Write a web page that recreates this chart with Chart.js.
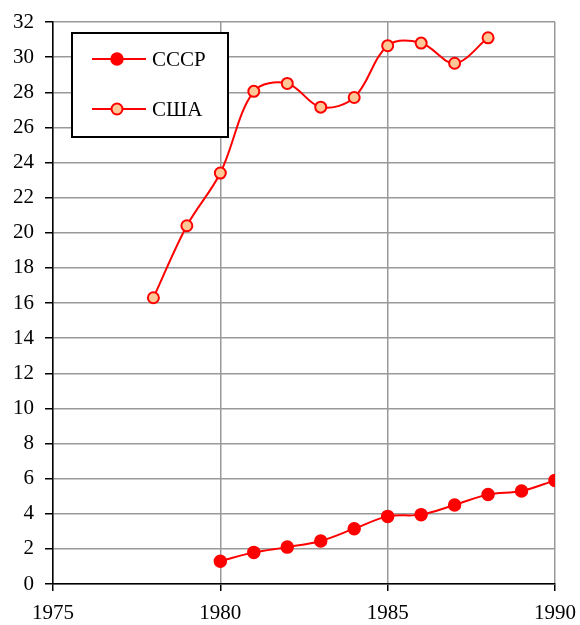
<!DOCTYPE html>
<html>
<head>
<meta charset="utf-8">
<script src="https://cdn.jsdelivr.net/npm/chart.js@4/dist/chart.umd.min.js"></script>
<style>
  html, body { margin: 0; padding: 0; background: #fff; }
  #wrap { width: 580px; height: 625px; }
</style>
</head>
<body>
<div id="wrap"><canvas id="lineChart" width="580" height="625"></canvas></div>
<script>
// data
var yearsSSSR = [1980, 1981, 1982, 1983, 1984, 1985, 1986, 1987, 1988, 1989, 1990];
var valuesSSSR = [1.3, 1.8, 2.1, 2.45, 3.15, 3.85, 3.95, 4.5, 5.1, 5.3, 5.9];
var yearsUSA = [1978, 1979, 1980, 1981, 1982, 1983, 1984, 1985, 1986, 1987, 1988];
var valuesUSA = [16.3, 20.4, 23.4, 28.05, 28.5, 27.15, 27.7, 30.65, 30.8, 29.65, 31.1];
var seriesNames = ["СССР", "США"];

function toPoints(xs, ys) {
  return xs.map(function (x, i) { return { x: x, y: ys[i] }; });
}

var font = { family: "'Liberation Serif', 'Times New Roman', serif", size: 21 };

// legend box drawn on the canvas, like the original
var boxLegend = {
  id: 'boxLegend',
  afterDraw: function (chart) {
    var c = chart.ctx;
    c.save();
    c.fillStyle = '#fff';
    c.fillRect(72, 33, 156, 104);
    c.lineWidth = 2;
    c.strokeStyle = '#000';
    c.strokeRect(72, 33, 156, 104);
    var rows = [59, 109];
    chart.data.datasets.forEach(function (ds, i) {
      var y = rows[i];
      c.strokeStyle = ds.borderColor;
      c.lineWidth = ds.borderWidth;
      c.beginPath();
      c.moveTo(92, y);
      c.lineTo(146, y);
      c.stroke();
      c.beginPath();
      c.arc(117, y, ds.pointRadius, 0, Math.PI * 2);
      c.fillStyle = ds.pointBackgroundColor;
      c.fill();
      c.lineWidth = ds.pointBorderWidth;
      c.strokeStyle = ds.pointBorderColor;
      c.stroke();
      c.fillStyle = '#000';
      c.font = "21px 'Liberation Serif', serif";
      c.textBaseline = 'middle';
      c.fillText(ds.label, 152, y + 1);
    });
    c.restore();
  }
};

var ctxL = document.getElementById("lineChart").getContext('2d');
var myLineChart = new Chart(ctxL, {
  type: 'line',
  data: {
    datasets: [{
      label: seriesNames[0],
      data: toPoints(yearsSSSR, valuesSSSR),
      borderColor: '#ff0000',
      borderWidth: 2,
      pointBackgroundColor: '#ff0000',
      pointBorderColor: '#ff0000',
      pointBorderWidth: 1.5,
      pointRadius: 6,
      tension: 0.35,
      fill: false
    },
    {
      label: seriesNames[1],
      data: toPoints(yearsUSA, valuesUSA),
      borderColor: '#ff0000',
      borderWidth: 2,
      pointBackgroundColor: '#ffc896',
      pointBorderColor: '#ff0000',
      pointBorderWidth: 2,
      pointRadius: 5.5,
      tension: 0.35,
      fill: false
    }]
  },
  options: {
    responsive: false,
    animation: false,
    layout: { padding: { top: 22, right: 25, left: 0, bottom: 0 } },
    plugins: {
      legend: { display: false },
      tooltip: { enabled: false }
    },
    scales: {
      x: {
        type: 'linear',
        min: 1975,
        max: 1990,
        ticks: { stepSize: 5, color: '#000', font: font, padding: 10, maxRotation: 0,
          callback: function (v) { return String(v); } },
        grid: { color: '#999', lineWidth: 1.5, tickColor: '#000', tickLength: 7 },
        border: { color: '#000', width: 1.5 },
        afterFit: function (s) { s.height = 41; s.paddingLeft = 0; s.paddingRight = 0; }
      },
      y: {
        min: 0,
        max: 32,
        ticks: { stepSize: 2, color: '#000', font: font, padding: 11 },
        grid: { color: '#999', lineWidth: 1.5, tickColor: '#000', tickLength: 8 },
        border: { color: '#000', width: 1.5 },
        afterFit: function (s) { s.width = 53; s.paddingTop = 0; s.paddingBottom = 0; }
      }
    }
  },
  plugins: [boxLegend]
});
</script>
</body>
</html>
